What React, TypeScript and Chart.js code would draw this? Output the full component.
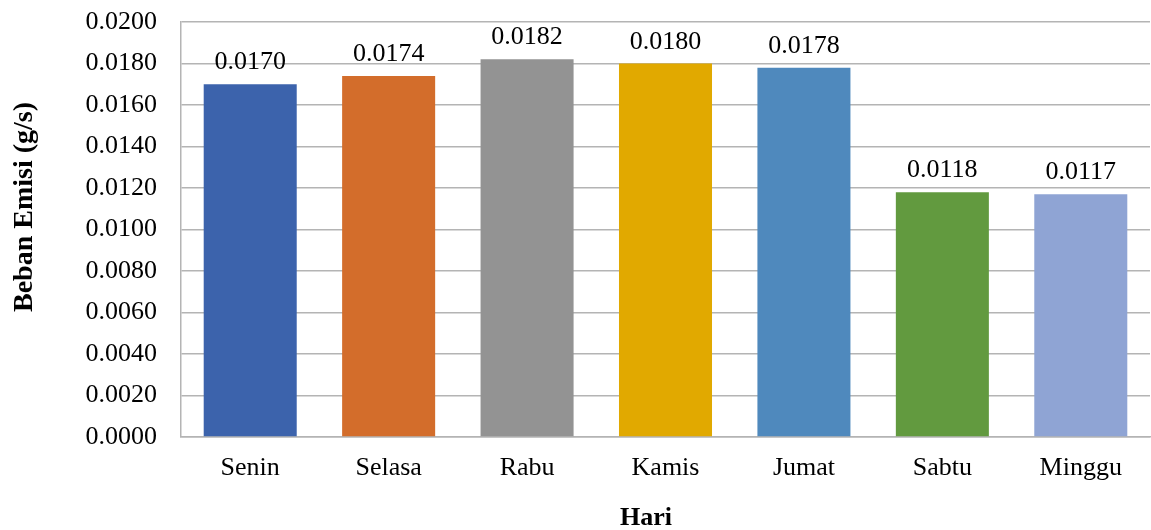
import React, { useEffect, useRef } from "react";
import { Chart, registerables } from "chart.js";

Chart.register(...registerables);

// Beban emisi harian (g/s)
const days: string[] = ["Senin", "Selasa", "Rabu", "Kamis", "Jumat", "Sabtu", "Minggu"];
const emissionLoad: number[] = [0.017, 0.0174, 0.0182, 0.018, 0.0178, 0.0118, 0.0117];
const yTicks: number[] = [0, 0.002, 0.004, 0.006, 0.008, 0.01, 0.012, 0.014, 0.016, 0.018, 0.02];

const barColors = ["#3C63AC", "#D36D2B", "#939393", "#E1A900", "#4F89BD", "#629A3F", "#8FA4D4"];

const FONT = '"Liberation Serif", "Times New Roman", serif';
const GRID = "#B4B4B4";

const labelsPlugin = {
  id: "valueLabelsAndTitles",
  afterDatasetsDraw(chart: any) {
    const ctx = chart.ctx;
    const meta = chart.getDatasetMeta(0);
    ctx.save();
    ctx.fillStyle = "#000";
    ctx.font = `26px ${FONT}`;
    ctx.textAlign = "center";
    ctx.textBaseline = "alphabetic";
    meta.data.forEach((bar: any, i: number) => {
      ctx.fillText(emissionLoad[i].toFixed(4), bar.x, bar.y - 15);
    });

    // axis titles
    ctx.font = `bold 26px ${FONT}`;
    ctx.fillText("Hari", 646, 525);
    ctx.translate(32, 207);
    ctx.rotate(-Math.PI / 2);
    ctx.font = `bold 28px ${FONT}`;
    ctx.fillText("Beban Emisi (g/s)", 0, 0);
    ctx.restore();
  },
};

export default function App() {
  const canvasRef = useRef<HTMLCanvasElement | null>(null);

  useEffect(() => {
    if (!canvasRef.current) return;
    const chart = new Chart(canvasRef.current, {
      type: "bar",
      data: {
        labels: days,
        datasets: [
          {
            data: emissionLoad,
            backgroundColor: barColors,
            borderWidth: 0,
            barPercentage: 0.672,
            categoryPercentage: 1,
          },
        ],
      },
      plugins: [labelsPlugin],
      options: {
        responsive: false,
        animation: false,
        layout: { padding: { top: 22, right: 1, left: 0, bottom: 0 } },
        plugins: {
          legend: { display: false },
          tooltip: { enabled: false },
        },
        scales: {
          x: {
            grid: { display: false, drawTicks: false },
            border: { display: true, color: GRID, width: 1.5 },
            ticks: {
              color: "#000",
              font: { family: FONT, size: 26 },
              padding: 16,
              maxRotation: 0,
            },
            afterFit(scale: any) {
              scale.height = 93;
            },
          },
          y: {
            min: 0,
            max: 0.02,
            afterBuildTicks(scale: any) {
              scale.ticks = yTicks.map((v) => ({ value: v }));
            },
            grid: { color: GRID, lineWidth: 1.5, drawTicks: false },
            border: { display: true, color: GRID, width: 1.5 },
            ticks: {
              color: "#000",
              font: { family: FONT, size: 26 },
              padding: 24,
              callback: (v: any) => Number(v).toFixed(4),
            },
            afterFit(scale: any) {
              scale.width = 181;
              scale.paddingTop = 0;
              scale.paddingBottom = 0;
            },
          },
        },
      },
    });
    return () => chart.destroy();
  }, []);

  return (
    <div style={{ position: "fixed", left: 0, top: 0, width: 1151, height: 530, background: "#fff" }}>
      <canvas ref={canvasRef} width={1151} height={530} style={{ display: "block" }} />
    </div>
  );
}
